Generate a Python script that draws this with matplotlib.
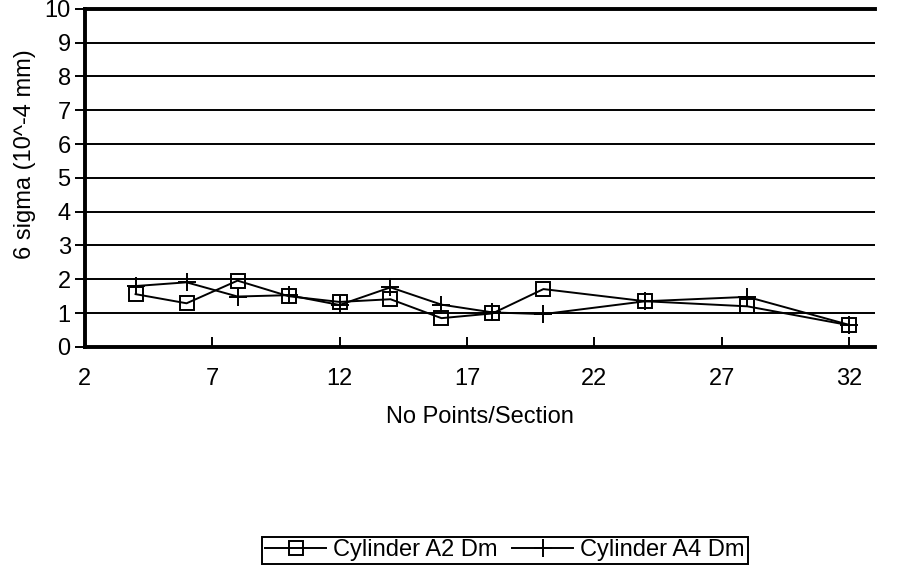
import matplotlib
matplotlib.use("Agg")
import matplotlib.pyplot as plt

x_points = [4, 6, 8, 10, 12, 14, 16, 18, 20, 24, 28, 32]
a2_dm = [1.56, 1.29, 1.96, 1.50, 1.33, 1.41, 0.85, 0.99, 1.71, 1.35, 1.20, 0.64]
a4_dm = [1.80, 1.91, 1.49, 1.53, 1.24, 1.76, 1.25, 1.02, 0.97, 1.35, 1.48, 0.65]
x_ticks = [2, 7, 12, 17, 22, 27, 32]
y_ticks = list(range(0, 11))

plt.rcParams['font.family'] = ['Liberation Sans', 'DejaVu Sans']
FS = 17

fig = plt.figure(figsize=(9, 5.85), dpi=100)
ax = fig.add_axes([0.094, 0.407, 0.878, 0.578])

for y in y_ticks[1:]:
    ax.axhline(y, color='black', lw=1.4, zorder=1)

ax.plot(x_points, a2_dm, color='black', lw=1.4, marker='s', markersize=10,
        markerfacecolor='none', markeredgecolor='black', markeredgewidth=1.4,
        label='Cylinder A2 Dm', zorder=3)
ax.plot(x_points, a4_dm, color='black', lw=1.4, marker='+', markersize=13,
        markeredgewidth=1.4, label='Cylinder A4 Dm', zorder=3)

ax.set_xlim(2, 33)
ax.set_ylim(0, 10)
ax.set_xticks(x_ticks)
ax.set_yticks(y_ticks)
ax.tick_params(axis='y', direction='out', length=7, width=1.4, labelsize=FS, pad=3)
ax.tick_params(axis='x', direction='in', length=7, width=1.4, labelsize=FS, pad=15)

for s in ['left', 'bottom', 'top']:
    ax.spines[s].set_linewidth(2.8)
    ax.spines[s].set_color('black')
ax.spines['right'].set_visible(False)

ax.set_xlabel('No Points/Section', fontsize=FS, labelpad=12)
ax.set_ylabel('6 sigma (10^-4 mm)', fontsize=FS)
ax.yaxis.set_label_coords(-0.062, 0.57)

leg = fig.legend(loc='center', bbox_to_anchor=(0.561, 0.059), ncol=2, fontsize=FS,
                 frameon=True, fancybox=False, edgecolor='black', framealpha=1,
                 handlelength=2.6, handletextpad=0.3, columnspacing=0.6,
                 borderpad=0.12, borderaxespad=0)
leg.get_frame().set_linewidth(1.4)

fig.savefig('out.png', dpi=100)
